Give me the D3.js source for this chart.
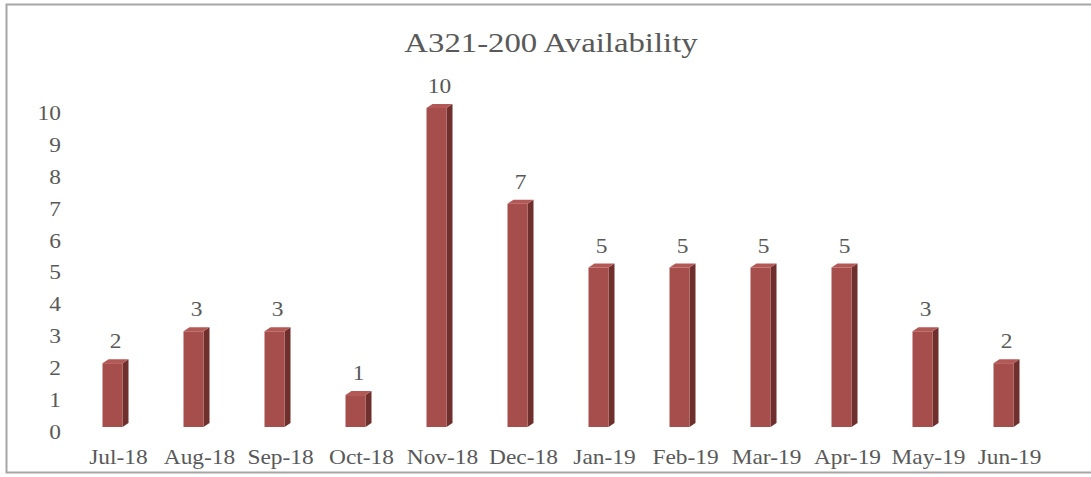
<!DOCTYPE html>
<html>
<head>
<meta charset="utf-8">
<script src="https://d3js.org/d3.v7.min.js"></script>
<style>
  body { margin: 0; background: #fff; }
  text { font-family: "Liberation Serif", "Times New Roman", serif; fill: #595959; }
</style>
</head>
<body>
<svg width="1091" height="477"></svg>
<script>
const months = ["Jul-18","Aug-18","Sep-18","Oct-18","Nov-18","Dec-18","Jan-19","Feb-19","Mar-19","Apr-19","May-19","Jun-19"]
const availability = [2, 3, 3, 1, 10, 7, 5, 5, 5, 5, 3, 2]
const yTicks = [0, 1, 2, 3, 4, 5, 6, 7, 8, 9, 10]

const svg = d3.select("svg")
const stretch = "scale(1.17,1)"   // the source picture is a bit wide

// frame
svg.append("path")
    .attr("d", "M1091,4.5 H6.5 V472.5 H1091")
    .attr("fill", "none")
    .attr("stroke", "#a6a6a6")
    .attr("stroke-width", 2)

svg.append("g")
    .attr("transform", "translate(551,52)")
  .append("text")
    .attr("transform", stretch)
    .attr("text-anchor", "middle")
    .attr("font-size", 28)
    .text("A321-200 Availability")

const x = d3.scaleBand().domain(months).range([78, 1050])
const y = d3.scaleLinear().domain([0, 10]).range([427, 108])

// y axis labels (no line, Excel style)
const yAxis = d3.axisLeft(y).tickValues(yTicks).tickSize(0).tickPadding(0)
svg.append("g")
    .attr("transform", "translate(61,5)")
    .call(yAxis)
    .call(g => g.select(".domain").remove())
    .call(g => g.selectAll("text")
        .attr("transform", stretch)
        .attr("font-size", 20)
        .attr("fill", "#595959"))

const xAxis = d3.axisBottom(x).tickSize(0).tickPadding(0)
svg.append("g")
    .attr("transform", "translate(0,450)")
    .call(xAxis)
    .call(g => g.select(".domain").remove())
    .call(g => g.selectAll("text")
        .attr("transform", stretch)
        .attr("font-size", 20)
        .attr("fill", "#595959"))

const data = months.map((m, i) => ({ month: m, value: availability[i] }))
const w = 20, dx = 6, dy = 4

const bars = svg.append("g").selectAll("g")
    .data(data)
    .join("g")

const left = d => x(d.month) + x.bandwidth() / 2 - 16

// side face
bars.append("path")
    .attr("fill", "#6e2f2d")
    .attr("d", d => {
      const x0 = left(d) + w, t = y(d.value), b = y(0)
      return `M${x0},${t} L${x0 + dx},${t - dy} L${x0 + dx},${b - dy} L${x0},${b} Z`
    })
// top face
bars.append("path")
    .attr("fill", "#b45855")
    .attr("d", d => {
      const x0 = left(d), t = y(d.value)
      return `M${x0},${t} L${x0 + dx},${t - dy} L${x0 + w + dx},${t - dy} L${x0 + w},${t} Z`
    })
// front face
bars.append("rect")
    .attr("fill", "#a64e4b")
    .attr("x", left)
    .attr("y", d => y(d.value))
    .attr("width", w)
    .attr("height", d => y(0) - y(d.value))

// value labels
bars.append("g")
    .attr("transform", d => `translate(${left(d) + (w + dx) / 2},${y(d.value) - dy - 11})`)
  .append("text")
    .attr("transform", stretch)
    .attr("text-anchor", "middle")
    .attr("font-size", 20)
    .text(d => d.value)
</script>
</body>
</html>
